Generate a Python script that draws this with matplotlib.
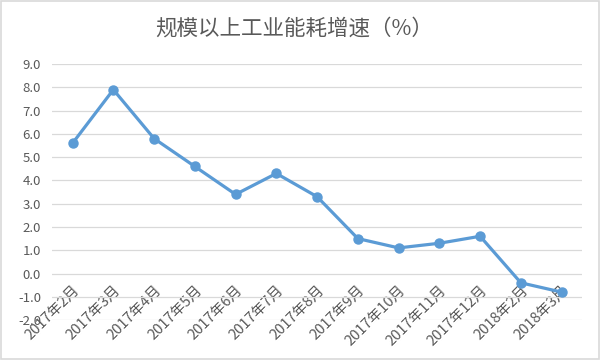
import matplotlib
matplotlib.use("Agg")
import matplotlib.pyplot as plt
from matplotlib.patches import Rectangle

plt.rcParams['font.family'] = ['Noto Sans CJK SC', 'DejaVu Sans']

# 数据
meses = ["2017年2月", "2017年3月", "2017年4月", "2017年5月", "2017年6月",
         "2017年7月", "2017年8月", "2017年9月", "2017年10月", "2017年11月",
         "2017年12月", "2018年2月", "2018年3月"]
crescimento = [5.6, 7.9, 5.8, 4.6, 3.4, 4.3, 3.3, 1.5, 1.1, 1.3, 1.6, -0.4, -0.8]
yticks = [-2.0, -1.0, 0.0, 1.0, 2.0, 3.0, 4.0, 5.0, 6.0, 7.0, 8.0, 9.0]

cinza = "#595959"
azul = "#5B9BD5"

fig = plt.figure(figsize=(6, 3.6), dpi=100)
ax = fig.add_axes([0.087, 0.111, 0.883, 0.711])

x = list(range(len(meses)))
ax.plot(x, crescimento, color=azul, linewidth=2.3, marker="o",
        markersize=6.5, zorder=3)

ax.set_xlim(-0.5, len(meses) - 0.5)
ax.set_ylim(-2, 9)
ax.set_yticks(yticks)
ax.set_yticklabels([f"{v:.1f}" for v in yticks])
ax.yaxis.grid(True, color="#D9D9D9", linewidth=0.9)
ax.set_axisbelow(True)

for s in ["top", "right", "left"]:
    ax.spines[s].set_visible(False)
ax.spines["bottom"].set_position(("data", 0))
ax.spines["bottom"].set_visible(False)

ax.set_xticks(x)
ax.set_xticklabels(meses, rotation=45, ha="right", va="top",
                   rotation_mode="anchor")
ax.tick_params(axis="x", length=0, pad=7, labelsize=10.5, labelcolor=cinza)
ax.tick_params(axis="y", length=0, pad=8, labelsize=9.5, labelcolor=cinza)

fig.text(0.49, 0.922, "规模以上工业能耗增速（%）", ha="center", va="center",
         fontsize=15.5, color=cinza, fontweight="light")

# moldura
fig.patches.append(Rectangle((0.002, 0.003), 0.996, 0.994, transform=fig.transFigure,
                             fill=False, edgecolor="#D9D9D9", linewidth=1.2))

fig.savefig("out.png", dpi=100)
